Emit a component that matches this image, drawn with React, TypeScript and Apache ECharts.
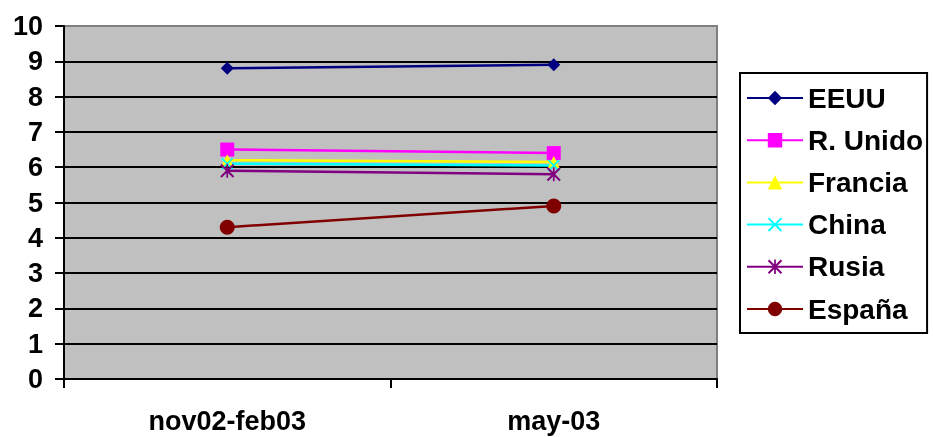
import React, { useEffect, useRef } from "react";
import * as echarts from "echarts";

const categories = ["nov02-feb03", "may-03"];
const seriesNames = ["EEUU", "R. Unido", "Francia", "China", "Rusia", "España"];
const eeuu = [8.8, 8.9];
const rUnido = [6.5, 6.4];
const francia = [6.2, 6.15];
const china = [6.1, 6.05];
const rusia = [5.9, 5.8];
const espana = [4.3, 4.9];
const yTicks = [0, 10, 1];

const X_PATH = "path://M0,1L1,0L5,4L9,0L10,1L6,5L10,9L9,10L5,6L1,10L0,9L4,5Z";
const STAR_PATH =
  "path://M0,1L1,0L5,4L9,0L10,1L6,5L10,9L9,10L5,6L1,10L0,9L4,5Z M4.4,0L5.6,0L5.6,10L4.4,10Z";

const FONT = "'Liberation Sans', Arial, sans-serif";

export default function App() {
  const ref = useRef<HTMLDivElement>(null);
  useEffect(() => {
    if (!ref.current) return;
    const chart = echarts.init(ref.current, undefined, { renderer: "svg" });
    const data = [eeuu, rUnido, francia, china, rusia, espana];
    const colors = ["#000080", "#FF00FF", "#FFFF00", "#00FFFF", "#800080", "#800000"];
    const symbols = ["diamond", "rect", "triangle", X_PATH, STAR_PATH, "circle"];
    const sizes = [13, 14, 12, 12, 14, 15];
    const nLines = Math.round((yTicks[1] - yTicks[0]) / yTicks[2]) + 1;
    const splitColors = Array.from({ length: nLines }, (_, i) =>
      i === nLines - 1 ? "#808080" : "#000"
    );
    chart.setOption({
      animation: false,
      textStyle: { fontFamily: FONT },
      grid: {
        left: 64,
        top: 26,
        width: 653,
        height: 353,
        show: true,
        backgroundColor: "#C0C0C0",
        borderColor: "#808080",
        borderWidth: 2,
      },
      xAxis: {
        type: "category",
        data: categories,
        boundaryGap: true,
        axisLine: { lineStyle: { color: "#000", width: 2 } },
        axisTick: { show: true, length: 9, lineStyle: { color: "#000", width: 2 } },
        axisLabel: { fontSize: 27, fontWeight: "bold", color: "#000", margin: 28, fontFamily: FONT },
        splitLine: { show: false },
      },
      yAxis: {
        type: "value",
        min: yTicks[0],
        max: yTicks[1],
        interval: yTicks[2],
        axisLine: { show: true, lineStyle: { color: "#000", width: 2 } },
        axisTick: { show: true, length: 9, lineStyle: { color: "#000", width: 2 } },
        axisLabel: { fontSize: 27, fontWeight: "bold", color: "#000", margin: 21, fontFamily: FONT },
        splitLine: { show: true, lineStyle: { color: splitColors, width: 2 } },
      },
      legend: {
        orient: "vertical",
        left: 740,
        top: 73,
        padding: [10, 4, 9, 6],
        borderColor: "#000",
        borderWidth: 2,
        itemWidth: 56,
        itemHeight: 18,
        itemGap: 12.2,
        data: seriesNames,
        textStyle: { fontSize: 28, fontWeight: "bold", color: "#000", lineHeight: 30, fontFamily: FONT },
      },
      series: seriesNames.map((name, i) => ({
        name,
        type: "line",
        data: data[i],
        symbol: symbols[i],
        symbolSize: sizes[i],
        showAllSymbol: true,
        lineStyle: { color: colors[i], width: 2.5 },
        itemStyle: { color: colors[i], borderColor: colors[i], borderWidth: 0 },
      })),
    });
    return () => chart.dispose();
  }, []);
  return (
    <div
      ref={ref}
      style={{ position: "fixed", left: 0, top: 0, width: 933, height: 437 }}
    />
  );
}
